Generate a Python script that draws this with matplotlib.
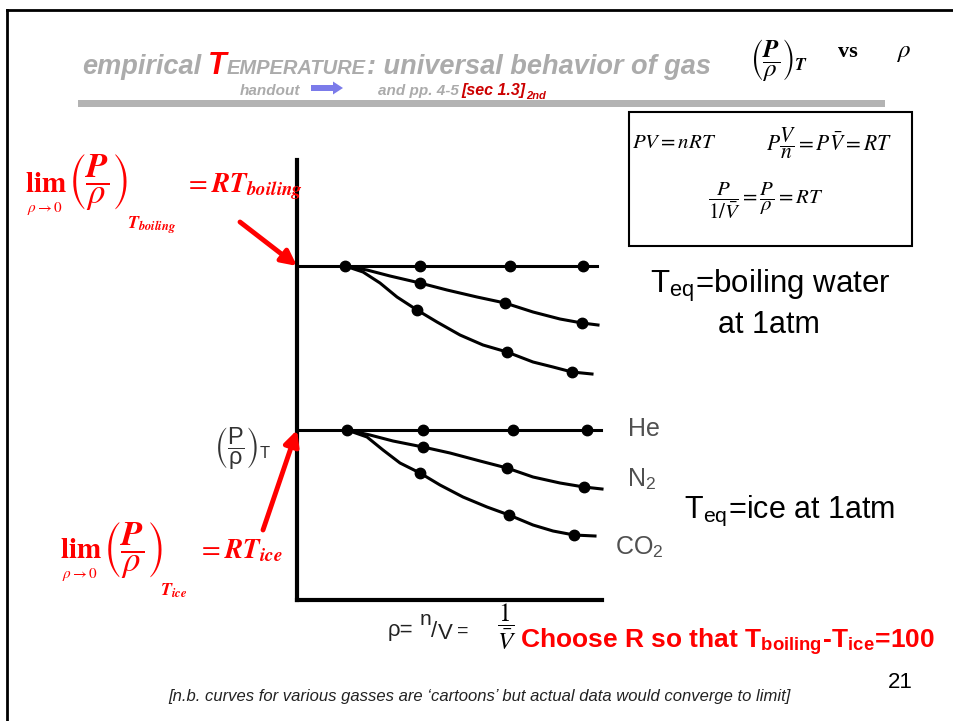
import matplotlib.pyplot as plt
from matplotlib.patches import Rectangle, FancyArrow

plt.rcParams['font.family'] = ['Liberation Sans', 'DejaVu Sans']
plt.rcParams['mathtext.fontset'] = 'stix'

# values (rho and P/rho in arbitrary units)
# boiling water isotherm
boil_he_rho = [0.48, 1.23, 2.13, 2.86]
boil_he_val = 3.34
boil_n2_rho = [0.48, 0.70, 0.93, 1.23, 1.50, 1.80, 2.08, 2.36, 2.63, 2.85, 3.01]
boil_n2_val = [3.34, 3.30, 3.24, 3.17, 3.10, 3.03, 2.97, 2.88, 2.81, 2.77, 2.75]
boil_n2_pts_rho = [1.23, 2.08, 2.85]
boil_n2_pts_val = [3.17, 2.97, 2.77]
boil_co2_rho = [0.48, 0.66, 0.83, 1.00, 1.20, 1.40, 1.63, 1.86, 2.10, 2.36, 2.56, 2.75, 2.95]
boil_co2_val = [3.34, 3.28, 3.17, 3.03, 2.90, 2.78, 2.65, 2.55, 2.48, 2.38, 2.33, 2.28, 2.26]
boil_co2_pts_rho = [1.20, 2.10, 2.75]
boil_co2_pts_val = [2.90, 2.48, 2.28]

# ice isotherm
ice_he_rho = [0.50, 1.26, 2.16, 2.90]
ice_he_val = 1.70
ice_n2_rho = [0.50, 0.73, 0.96, 1.26, 1.53, 1.83, 2.10, 2.36, 2.63, 2.87, 3.05]
ice_n2_val = [1.70, 1.65, 1.59, 1.53, 1.47, 1.39, 1.32, 1.23, 1.17, 1.13, 1.11]
ice_n2_pts_rho = [1.26, 2.10, 2.87]
ice_n2_pts_val = [1.53, 1.32, 1.13]
ice_co2_rho = [0.50, 0.70, 0.86, 1.03, 1.23, 1.43, 1.66, 1.90, 2.12, 2.36, 2.56, 2.77, 2.98]
ice_co2_val = [1.70, 1.63, 1.50, 1.37, 1.27, 1.15, 1.03, 0.93, 0.85, 0.75, 0.69, 0.65, 0.64]
ice_co2_pts_rho = [1.23, 2.12, 2.77]
ice_co2_pts_val = [1.27, 0.85, 0.65]

gas_names = ['He', r'N$_\mathregular{2}$', r'CO$_\mathregular{2}$']

fig = plt.figure(figsize=(9.54, 7.21), dpi=100)
renderer = fig.canvas.get_renderer()

# the chart itself
ax = fig.add_axes([297/954, 121/721, 305/954, 440/721])
ax.set_xlim(0, 3.05)
ax.set_ylim(0, 4.4)
ax.spines['top'].set_visible(False)
ax.spines['right'].set_visible(False)
ax.spines['left'].set_linewidth(3)
ax.spines['bottom'].set_linewidth(3)
ax.set_xticks([])
ax.set_yticks([])
ax.patch.set_visible(False)


def draw_gas(xs, ys, px, py):
    ax.plot(xs, ys, color='black', lw=2.2, clip_on=False, solid_joinstyle='round')
    ax.plot(px, py, 'o', color='black', ms=7.5, clip_on=False)


for he_rho, he_val in [(boil_he_rho, boil_he_val), (ice_he_rho, ice_he_val)]:
    draw_gas([0, he_rho[-1] + 0.14], [he_val, he_val], he_rho, [he_val] * len(he_rho))

draw_gas(boil_n2_rho, boil_n2_val, boil_n2_pts_rho, boil_n2_pts_val)
draw_gas(boil_co2_rho, boil_co2_val, boil_co2_pts_rho, boil_co2_pts_val)
draw_gas(ice_n2_rho, ice_n2_val, ice_n2_pts_rho, ice_n2_pts_val)
draw_gas(ice_co2_rho, ice_co2_val, ice_co2_pts_rho, ice_co2_pts_val)

# overlay in slide pixels for all the slide text
ov = fig.add_axes([0, 0, 1, 1])
ov.set_xlim(0, 954)
ov.set_ylim(721, 0)
ov.axis('off')


def chain(x, y, pieces):
    # put text pieces one after another on the same baseline
    for s, gap, dy, kw in pieces:
        x += gap
        t = ov.text(x, y + dy, s, va='baseline', **kw)
        x = t.get_window_extent(renderer).x1
    return x


# slide frame
ov.plot([7, 954], [10, 10], color='black', lw=2)
ov.plot([7, 7], [10, 721], color='black', lw=2)

# title
gray = '#ababab'
bi = dict(fontweight='bold', style='italic')
chain(82, 74, [
    ('empirical', 0, 0, dict(fontsize=19.5, color=gray, **bi)),
    ('T', 7, 0, dict(fontsize=22, color='red', **bi)),
    ('EMPERATURE', 0, 0, dict(fontsize=14.5, color=gray, **bi)),
    (': universal behavior of gas', 1, 0, dict(fontsize=19.5, color=gray, **bi)),
])
ov.text(240, 95, 'handout', fontsize=11, color=gray, va='baseline', **bi)
ov.add_patch(FancyArrow(311, 88, 22, 0, width=6, head_width=13, head_length=10, color='#7b7bea', lw=0))
chain(378, 95, [
    ('and pp. 4-5', 0, 0, dict(fontsize=11, color=gray, **bi)),
    ('[sec 1.3]', 3, 0, dict(fontsize=11.5, color='#cc0000', **bi)),
    ('2nd', 0, 4, dict(fontsize=8, color='#cc0000', **bi)),
])
ov.add_patch(Rectangle((78, 100), 807, 7, color='#b3b3b3', lw=0))

# top right (P/rho)_T vs rho
ov.text(750, 60, r'$\left(\dfrac{\mathbfit{P}}{\rho}\right)_{\mathbfit{T}}$', fontsize=18, va='center')
ov.text(838, 57, 'vs', fontsize=16, fontweight='bold', family='Liberation Serif', va='baseline')
ov.text(896, 57, r'$\rho$', fontsize=18, va='baseline')

# ideal gas box
ov.add_patch(Rectangle((629, 112), 283, 134, fill=False, ec='black', lw=1.5))
ov.text(632, 143, r'$PV=nRT$', fontsize=15, va='center')
ov.text(766, 143, r'$P\dfrac{V}{n}=P\bar{V}=RT$', fontsize=15.5, va='center')
ov.text(708, 201, r'$\dfrac{P}{1/\bar{V}}=\dfrac{P}{\rho}=RT$', fontsize=15, va='center')

# limits
red = '#ff0000'
ov.text(25, 192, r'$\mathbf{lim}$', fontsize=21, color=red, va='baseline')
ov.text(45, 212, r'$\rho\rightarrow0$', fontsize=11, color=red, ha='center', va='baseline')
ov.text(68, 183, r'$\left(\dfrac{\mathbfit{P}}{\rho}\right)$', fontsize=25, color=red, va='center')
ov.text(127, 229, r'$\mathbfit{T}_{\mathbfit{boiling}}$', fontsize=13, color=red, va='baseline')
ov.text(185, 192, r'$=\mathbfit{RT}_{\mathbfit{boiling}}$', fontsize=19.5, color=red, va='baseline')

ov.text(60, 558, r'$\mathbf{lim}$', fontsize=21, color=red, va='baseline')
ov.text(80, 578, r'$\rho\rightarrow0$', fontsize=11, color=red, ha='center', va='baseline')
ov.text(103, 551, r'$\left(\dfrac{\mathbfit{P}}{\rho}\right)$', fontsize=25, color=red, va='center')
ov.text(160, 596, r'$\mathbfit{T}_{\mathbfit{ice}}$', fontsize=13, color=red, va='baseline')
ov.text(198, 558, r'$=\mathbfit{RT}_{\mathbfit{ice}}$', fontsize=19.5, color=red, va='baseline')

arrow_style = dict(arrowstyle='-|>,head_length=0.9,head_width=0.45', color=red, lw=3.5,
                   shrinkA=0, shrinkB=0)
ov.annotate('', xy=(0, boil_he_val), xycoords=ax.transData, xytext=(240, 222),
            textcoords='data', arrowprops=arrow_style)
ov.annotate('', xy=(0, ice_he_val), xycoords=ax.transData, xytext=(263, 530),
            textcoords='data', arrowprops=arrow_style)

# y label on the chart
ov.text(214, 449, r'$\left(\dfrac{\mathregular{P}}{\mathregular{ρ}}\right)_\mathregular{T}$',
        fontsize=17, color='#333333', va='center', math_fontfamily='dejavusans')

# gas labels
for name, pos in zip(gas_names, [(628, 436), (627, 487), (615, 555)]):
    ov.text(pos[0], pos[1], name, fontsize=18, color='#505050', va='baseline')

ov.text(650, 293, r'T$_\mathregular{eq}$=boiling water', fontsize=22.5, va='baseline')
ov.text(718, 333, 'at 1atm', fontsize=22, va='baseline')
ov.text(684, 518, r'T$_\mathregular{eq}$=ice at 1atm', fontsize=22, va='baseline')

# x label
dark = '#222222'
chain(388, 636, [
    ('ρ=', 0, 0, dict(fontsize=16, color=dark)),
    ('n', 6, -11, dict(fontsize=15, color=dark)),
    ('/', 0, 1, dict(fontsize=16, color=dark)),
    ('V', 0, 3, dict(fontsize=16, color=dark)),
    ('=', 5, 0, dict(fontsize=14, color=dark)),
])
ov.text(507, 627, r'$\dfrac{1}{\bar{V}}$', fontsize=18, ha='center', va='center')
ov.text(520, 648, r'Choose R so that T$_\mathregular{boiling}$-T$_\mathregular{ice}$=100',
        fontsize=19, fontweight='bold', color=red, va='baseline')

ov.text(888, 688, '21', fontsize=16, va='baseline')
ov.text(168, 701, '[n.b. curves for various gasses are \u2018cartoons\u2019 but actual data would converge to limit]',
        fontsize=12, style='italic', color=dark, va='baseline')

fig.savefig('out.png', dpi=100)
